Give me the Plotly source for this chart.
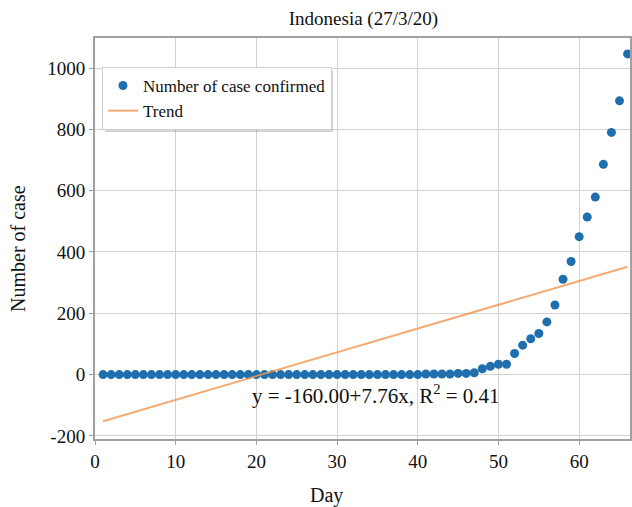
import numpy as np
import plotly.graph_objects as go

# Cumulative confirmed COVID-19 cases in Indonesia, day 1 = 22 Jan 2020, day 66 = 27 Mar 2020
days = list(range(1, 67))
cases = [0] * 40 + [
    2, 2, 2, 2, 4, 4, 6, 19, 27, 34, 34, 69, 96, 117, 134, 172,
    227, 311, 369, 450, 514, 579, 686, 790, 893, 1046,
]
x_ticks = [0, 10, 20, 30, 40, 50, 60]
y_ticks = [-200, 0, 200, 400, 600, 800, 1000]
y_tick_text = [str(v) for v in y_ticks]  # plain hyphen for negatives

# Ordinary least-squares trend
x = np.array(days, dtype=float)
y = np.array(cases, dtype=float)
slope, intercept = np.polyfit(x, y, 1)
fitted = intercept + slope * x
r2 = 1 - np.sum((y - fitted) ** 2) / np.sum((y - y.mean()) ** 2)

SERIF = "Liberation Serif, Times New Roman, serif"
GRID = "#d2d2d2"
SPINE = "#a0a0a0"

W, H = 632, 507
M = dict(l=95, r=0, t=38, b=68)
PW, PH = W - M["l"] - M["r"], H - M["t"] - M["b"]


def px_to_paper(px, py):
    return (px - M["l"]) / PW, (H - M["b"] - py) / PH


fig = go.Figure()
fig.add_trace(go.Scatter(
    x=days, y=cases, mode="markers", name="Number of case confirmed",
    marker=dict(color="#1f6fae", size=9),
))
fig.add_trace(go.Scatter(
    x=days, y=fitted, mode="lines", name="Trend",
    line=dict(color="rgba(240,150,80,0.8)", width=2),
))

fig.add_annotation(
    text=f"y = {intercept:.2f}+{slope:.2f}x, R<sup>2</sup> = {r2:.2f}",
    xref="paper", yref="paper", x=0.525, y=0.11,
    xanchor="center", yanchor="middle", showarrow=False,
    font=dict(family=SERIF, size=21, color="#111"),
)
# axis titles
fig.add_annotation(
    text="Day", xref="paper", yref="paper", x=0.432, y=-0.14,
    xanchor="center", yanchor="middle", showarrow=False,
    font=dict(family=SERIF, size=20, color="#111"),
)
fig.add_annotation(
    text="Number of case", xref="paper", yref="paper", x=-0.145, y=0.475,
    xanchor="center", yanchor="middle", textangle=-90, showarrow=False,
    font=dict(family=SERIF, size=20, color="#111"),
)

# soft drop shadow behind the legend box
sx0, sy0 = px_to_paper(105, 71)
sx1, sy1 = px_to_paper(334, 132)
fig.add_shape(type="rect", xref="paper", yref="paper",
              x0=sx0, y0=sy1, x1=sx1, y1=sy0,
              fillcolor="rgba(0,0,0,0.17)", line=dict(width=0), layer="above")

lx, ly = px_to_paper(102, 67)
fig.update_layout(
    width=W, height=H,
    margin=M,
    paper_bgcolor="white", plot_bgcolor="white",
    font=dict(family=SERIF, size=19, color="#111"),
    title=dict(text="Indonesia (27/3/20)", x=0.575, xref="container",
               y=0.964, yref="container", xanchor="center", yanchor="middle",
               font=dict(family=SERIF, size=19, color="#111")),
    showlegend=True,
    legend=dict(
        x=lx, y=ly, xanchor="left", yanchor="top",
        bgcolor="white", bordercolor="#d0d0d0", borderwidth=1,
        font=dict(family=SERIF, size=17, color="#111"),
        tracegroupgap=0,
    ),
    xaxis=dict(
        range=[0, 66.3], tickvals=x_ticks, showgrid=True, gridcolor=GRID, gridwidth=1,
        showline=True, linecolor=SPINE, linewidth=2, mirror=True,
        ticks="outside", ticklen=4, tickcolor=SPINE, zeroline=False,
    ),
    yaxis=dict(
        range=[-210, 1098], tickvals=y_ticks, ticktext=y_tick_text,
        showgrid=True, gridcolor=GRID, gridwidth=1,
        showline=True, linecolor=SPINE, linewidth=2, mirror=True,
        ticks="outside", ticklen=4, tickcolor=SPINE, zeroline=False,
    ),
)

fig.write_html("out.html")
